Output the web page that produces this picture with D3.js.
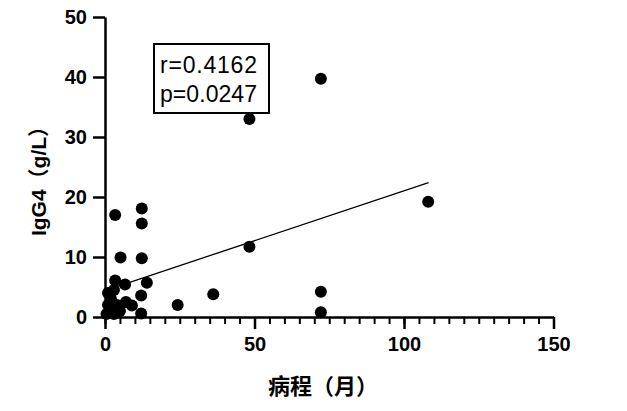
<!DOCTYPE html>
<html>
<head>
<meta charset="utf-8">
<script src="https://cdn.jsdelivr.net/npm/d3@7"></script>
<style>
  body { margin: 0; background: #fff; }
  svg { display: block; }
</style>
</head>
<body>
<div id="chart"></div>
<script>
// Data: disease duration (months) vs IgG4 (g/L)
var duration = [72.2, 48.3, 108.1, 48.3, 36.2, 24.3, 72.2, 72.2,
    3.4, 12.3, 12.3, 5.2, 12.3, 3.4, 6.7, 14, 12.1, 9, 12.1,
    0.5, 1, 1, 2, 2, 3, 3, 4, 5, 7];
var igg4 = [39.7, 33, 19.2, 11.7, 3.8, 2, 4.2, 0.8,
    17, 18.1, 15.6, 9.9, 9.8, 6.1, 5.4, 5.7, 3.6, 1.9, 0.6,
    0.5, 2, 4, 1, 3, 4.5, 0.5, 2, 1, 2.5];

// fitted line end points
var fitX = [0, 108.2];
var fitY = [4.4, 22.4];

var xTicks = [0, 50, 100, 150];
var yTicks = [0, 10, 20, 30, 40, 50];
var stats = ["r=0.4162", "p=0.0247"];

var svgWidth = 627, svgHeight = 411;

var svg = d3.select("#chart").append("svg")
    .attr("width", svgWidth)
    .attr("height", svgHeight);

var xScale = d3.scaleLinear().domain([0, 150]).range([105, 553.5]);
var yScale = d3.scaleLinear().domain([0, 50]).range([317, 17]);

var tickFont = "'Liberation Sans', Arial, sans-serif";

// minor ticks on x
svg.append("g")
    .attr("transform", "translate(0," + yScale(0) + ")")
    .call(d3.axisBottom(xScale).tickValues(d3.range(0, 151, 5)).tickSize(7).tickFormat(""))
    .call(function(g) {
        g.select(".domain").remove();
        g.selectAll("line").attr("stroke-width", 2);
    });

// x axis
svg.append("g")
    .attr("transform", "translate(0," + yScale(0) + ")")
    .call(d3.axisBottom(xScale).tickValues(xTicks).tickSize(12).tickPadding(8).tickSizeOuter(0))
    .call(function(g) {
        g.select(".domain").attr("stroke-width", 2.5);
        g.selectAll("line").attr("stroke-width", 2.5);
        g.selectAll("text")
            .attr("font-family", tickFont)
            .attr("font-weight", "bold")
            .attr("font-size", 20)
            .attr("fill", "#000");
    });

// y axis
svg.append("g")
    .attr("transform", "translate(" + xScale(0) + ",0)")
    .call(d3.axisLeft(yScale).tickValues(yTicks).tickSize(12).tickPadding(6).tickSizeOuter(0))
    .call(function(g) {
        g.select(".domain").attr("stroke-width", 2.5);
        g.selectAll("line").attr("stroke-width", 2.5);
        g.selectAll("text")
            .attr("font-family", tickFont)
            .attr("font-weight", "bold")
            .attr("font-size", 20)
            .attr("fill", "#000");
    });

// regression line
svg.append("line")
    .attr("x1", xScale(fitX[0])).attr("y1", yScale(fitY[0]))
    .attr("x2", xScale(fitX[1])).attr("y2", yScale(fitY[1]))
    .attr("stroke", "#000")
    .attr("stroke-width", 1.3);

// dots
svg.append("g")
    .selectAll("circle")
    .data(duration)
    .enter()
    .append("circle")
        .attr("cx", function(d) { return xScale(d); })
        .attr("cy", function(d, i) { return yScale(igg4[i]); })
        .attr("r", 6)
        .attr("fill", "#000");

// stats box
svg.append("rect")
    .attr("x", 154).attr("y", 44)
    .attr("width", 115).attr("height", 69)
    .attr("fill", "#fff")
    .attr("stroke", "#000")
    .attr("stroke-width", 2);

svg.append("g")
    .selectAll("text")
    .data(stats)
    .enter()
    .append("text")
        .attr("x", 160)
        .attr("y", function(d, i) { return 73 + i * 29; })
        .attr("font-family", tickFont)
        .attr("font-size", 23)
        .attr("textLength", 97)
        .attr("fill", "#000")
        .text(function(d) { return d; });

// axis titles
var titleFont = "'Liberation Sans', 'Noto Sans CJK SC', sans-serif";

svg.append("text")
    .attr("x", 323)
    .attr("y", 394)
    .attr("text-anchor", "middle")
    .attr("font-family", "'Noto Sans CJK SC', sans-serif")
    .attr("font-weight", "bold")
    .attr("font-size", 22)
    .text("病程（月）");

svg.append("text")
    .attr("transform", "translate(46,176) rotate(-90)")
    .attr("text-anchor", "middle")
    .attr("font-family", titleFont)
    .attr("font-weight", "bold")
    .attr("font-size", 21)
    .text("IgG4（g/L）");
</script>
</body>
</html>
